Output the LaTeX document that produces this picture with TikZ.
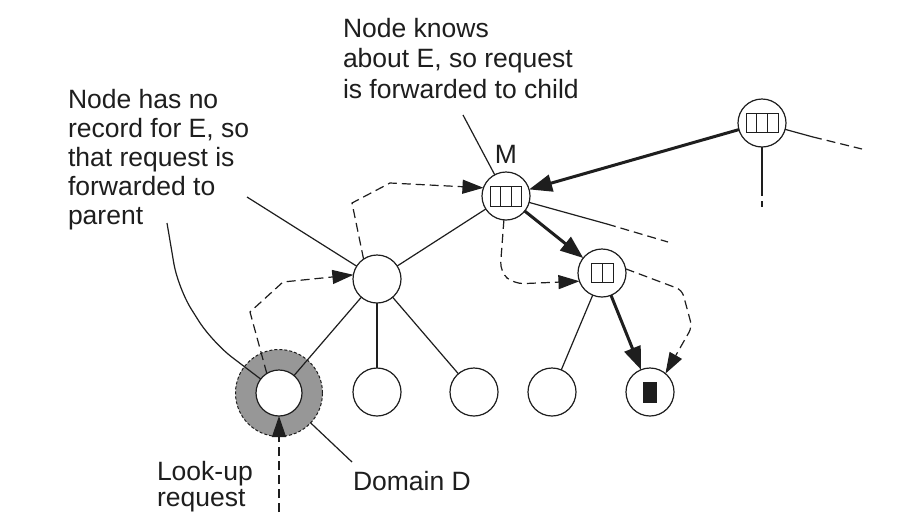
\documentclass[tikz,border=0pt]{standalone}
\usepackage{fontspec}
\setmainfont{Liberation Sans}
\usetikzlibrary{arrows.meta,calc}
\definecolor{ringgray}{HTML}{979797}
\definecolor{ink}{HTML}{1E1E1E}
\begin{document}
\begin{tikzpicture}[x=1pt,y=-1pt,
  every node/.style={inner sep=0pt, outer sep=0pt},
  tnode/.style={circle, draw=ink, line width=1.2pt, fill=white, minimum size=48pt},
  link/.style={draw=ink, line width=1.2pt},
  dlink/.style={draw=ink, line width=1.2pt, dash pattern=on 9pt off 5pt},
  fwd/.style={draw=ink, line width=3pt, -{Triangle[length=23pt,width=17pt]}},
  dfwd/.style={draw=ink, line width=1.2pt, dash pattern=on 9pt off 5pt, -{Triangle[length=21pt,width=14pt]}},
  lbl/.style={text=ink, font=\fontsize{26.5}{29}\selectfont, align=left},
  rec/.style={draw=ink, line width=1pt}
]
\useasboundingbox (0,0) rectangle (904,520);
\fill[white] (0,0) rectangle (904,520);

% domain ring
\node[circle, minimum size=87pt, fill=ringgray, draw=ink, line width=1pt, dash pattern=on 3pt off 2pt] (D) at (279,393) {};

% tree nodes
\node[tnode] (tr) at (762,123) {};
\node[tnode] (M) at (506,196) {};
\node[tnode] (mid) at (377,279) {};
\node[tnode] (n2) at (602,273) {};
\node[tnode, minimum size=46pt] (d) at (279,393) {};
\node[tnode] (l2) at (377,392) {};
\node[tnode] (l3) at (474,392) {};
\node[tnode] (l4) at (552,392) {};
\node[tnode] (l5) at (650,392) {};

% records inside nodes
\draw[rec] ($(M)+(-15.5,-10)$) rectangle ($(M)+(15.5,10)$);
\draw[rec] ($(M)+(-5.2,-10)$) -- ($(M)+(-5.2,10)$);
\draw[rec] ($(M)+(5.2,-10)$) -- ($(M)+(5.2,10)$);
\draw[rec] ($(tr)+(-16,-9.5)$) rectangle ($(tr)+(16,9.5)$);
\draw[rec] ($(tr)+(-5.3,-9.5)$) -- ($(tr)+(-5.3,9.5)$);
\draw[rec] ($(tr)+(5.3,-9.5)$) -- ($(tr)+(5.3,9.5)$);
\draw[rec] ($(n2)+(-11,-9.5)$) rectangle ($(n2)+(11,9.5)$);
\draw[rec] ($(n2)+(0,-9.5)$) -- ($(n2)+(0,9.5)$);
\fill[ink] ($(l5)+(-7,-10.5)$) rectangle ($(l5)+(7,10.5)$);

% tree links
\draw[link] (mid) -- (M);
\draw[link] (mid) -- (d);
\draw[link] (mid) -- (l2);
\draw[link] (mid) -- (l3);
\draw[link] (n2) -- (l4);
\coordinate (mr1) at (607,224);
\coordinate (mr2) at (668,242);
\draw[link] (M) -- (mr1);
\draw[dlink] (mr1) -- (mr2);
\coordinate (tr1) at (813,137);
\coordinate (tr2) at (862,149);
\draw[link] (tr) -- (tr1);
\draw[dlink] (tr1) -- (tr2);
\coordinate (td1) at (762,187);
\coordinate (td2) at (762,207);
\draw[link] (tr) -- (td1);
\draw[dlink] (td1) -- (td2);

% forwarding (solid)
\draw[fwd] (tr) -- (M);
\draw[fwd] (M) -- (n2);
\draw[fwd] (n2) -- (l5);

% dashed request paths
\coordinate (lk) at (279,512);
\draw[dfwd] (lk) -- (d);
\draw[dfwd] (d.122) -- (250,312) -- (283,282) -- (mid.170);
\draw[dfwd] (mid.124) -- (352,203) -- (390,183) -- (M.160);
\draw[dfwd, rounded corners=10pt] (M.265) -- (500,272) -- (514,284) -- (n2.200);
\draw[dfwd, rounded corners=6pt] (n2.10) -- (682,290) -- (692,327) -- (l5.50);

% labels
\node[lbl, anchor=north west] (t1) at (68,89) {Node has no\\record for E, so\\that request is\\forwarded to\\parent};
\node[lbl, anchor=north west, font=\fontsize{26.5}{30.5}\selectfont] (t2) at (343,18) {Node knows\\about E, so request\\is forwarded to child};
\node[lbl, anchor=base] (tm) at (506,163) {M};
\node[lbl, anchor=north west, font=\fontsize{26.5}{26}\selectfont] (t3) at (157,461) {Look-up\\request};
\node[lbl, anchor=base west] (t4) at (353,490) {Domain D};

% leaders
\coordinate (a1) at (463,115);
\draw[link] (a1) -- (M);
\coordinate (a2) at (247,197);
\draw[link] (a2) -- (mid);
\coordinate (a3) at (167,223);
\draw[link, rounded corners=25pt] (a3) -- (178,288) -- (212,342) -- (d);
\coordinate (a4) at (352,462);
\draw[link] (a4) -- (D);
\end{tikzpicture}
\end{document}
